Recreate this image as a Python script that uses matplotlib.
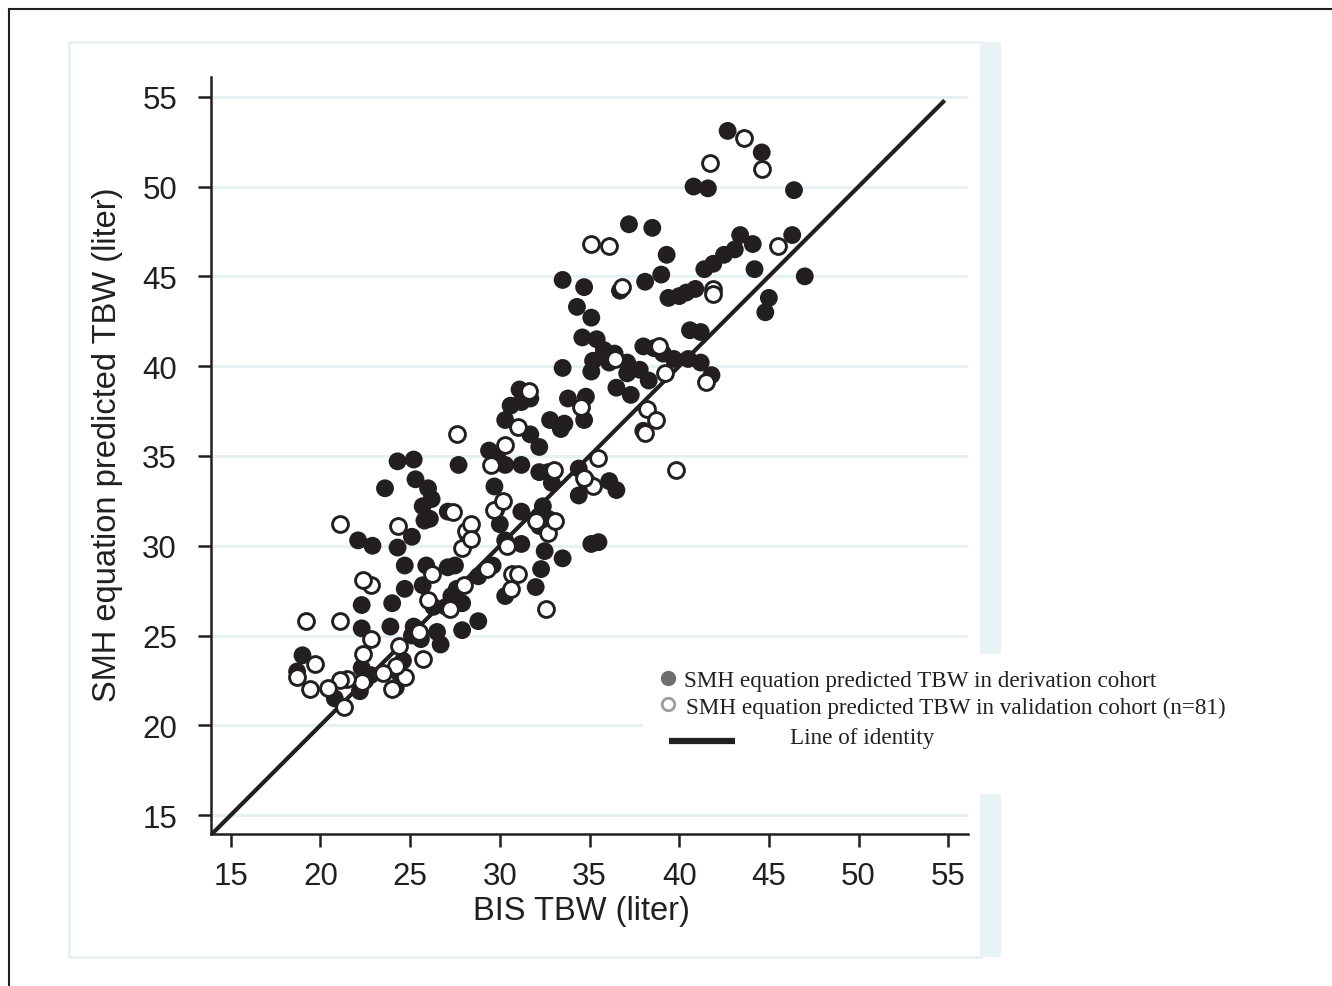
import matplotlib.pyplot as plt
from matplotlib.patches import Rectangle
from matplotlib.lines import Line2D

# derivation cohort (filled circles)
deriv_x = [42.7, 44.6, 40.8, 41.6, 46.4, 46.3, 43.4, 37.2, 38.5, 33.5, 34.7, 38.1, 36.7, 39.4,
           40.0, 40.4, 40.9, 41.4, 41.9, 42.5, 43.1, 44.1, 39.0, 39.3, 44.2, 45.0, 44.8, 47.0,
           34.3, 35.1, 40.6, 41.2, 34.6, 35.4, 35.8, 35.2, 35.1, 36.1, 36.4, 37.1, 37.1, 37.8,
           38.0, 38.6, 39.1, 39.7, 40.5, 41.2, 41.8, 36.5, 37.3, 38.3, 33.5, 33.8, 34.8, 34.7,
           38.0, 33.6, 32.8, 33.4, 34.4, 34.4, 36.1, 36.5, 35.1, 35.5, 33.5, 32.2, 32.5, 30.6,
           30.3, 31.1, 31.2, 31.7, 31.7, 31.2, 30.3, 29.4, 29.9, 29.7, 29.8, 30.0, 30.3, 31.2,
           31.2, 32.2, 32.7, 32.9, 32.4, 32.7, 32.2, 32.3, 32.0, 29.6, 28.8, 30.3, 28.8, 27.9,
           27.9, 27.3, 27.6, 27.0, 26.3, 26.5, 26.7, 25.6, 25.2, 25.1, 25.7, 25.9, 25.8, 26.1,
           25.7, 26.0, 25.3, 25.2, 24.3, 23.6, 25.1, 24.3, 24.7, 24.7, 24.0, 23.9, 24.6, 24.4,
           24.2, 22.3, 22.3, 22.1, 22.9, 22.3, 22.5, 22.8, 22.2, 20.8, 19.0, 18.7, 26.2, 27.1,
           27.5, 27.1, 27.7, 28.4, 28.2]
deriv_y = [53.1, 51.9, 50.0, 49.9, 49.8, 47.3, 47.3, 47.9, 47.7, 44.8, 44.4, 44.7, 44.2, 43.8,
           43.9, 44.1, 44.3, 45.4, 45.7, 46.2, 46.5, 46.8, 45.1, 46.2, 45.4, 43.8, 43.0, 45.0,
           43.3, 42.7, 42.0, 41.9, 41.6, 41.5, 40.9, 40.3, 39.7, 40.2, 40.7, 40.2, 39.6, 39.8,
           41.1, 41.0, 40.7, 40.4, 40.4, 40.2, 39.5, 38.8, 38.4, 39.2, 39.9, 38.2, 38.3, 37.0,
           36.4, 36.8, 37.0, 36.5, 34.3, 32.8, 33.6, 33.1, 30.1, 30.2, 29.3, 35.5, 29.7, 37.8,
           37.0, 38.7, 38.0, 38.2, 36.2, 34.5, 34.5, 35.3, 34.8, 33.3, 32.0, 31.2, 30.3, 31.9,
           30.1, 34.1, 34.1, 33.5, 32.2, 31.5, 31.1, 28.7, 27.7, 28.9, 28.3, 27.2, 25.8, 25.3,
           26.8, 27.2, 27.6, 26.6, 26.6, 25.2, 24.5, 24.8, 25.5, 25.0, 27.8, 28.9, 31.4, 31.5,
           32.2, 33.2, 33.7, 34.8, 34.7, 33.2, 30.5, 29.9, 28.9, 27.6, 26.8, 25.5, 23.6, 22.9,
           22.1, 26.7, 25.4, 30.3, 30.0, 23.2, 22.5, 22.8, 21.9, 21.5, 23.9, 23.0, 32.6, 31.9,
           28.9, 28.8, 34.5, 31.1, 30.6]

# validation cohort (open circles)
valid_x = [43.6, 41.7, 44.6, 35.1, 36.1, 36.8, 41.9, 41.9, 45.5, 41.5, 36.4, 38.9, 39.2, 38.2,
           38.1, 38.7, 39.8, 34.5, 35.5, 34.8, 35.2, 31.6, 31.0, 30.3, 27.6, 29.5, 29.7, 30.2,
           28.1, 28.4, 27.9, 28.4, 30.4, 30.7, 31.0, 30.6, 32.0, 32.7, 33.1, 33.0, 32.6, 29.3,
           28.0, 27.2, 27.4, 26.0, 26.2, 25.7, 24.7, 24.4, 24.2, 24.0, 22.8, 22.8, 22.4, 24.3,
           22.4, 22.3, 21.5, 21.1, 21.3, 20.4, 19.7, 19.4, 18.7, 19.2, 21.1, 21.1, 23.5, 25.5,
           34.7]
valid_y = [52.7, 51.3, 51.0, 46.8, 46.7, 44.4, 44.3, 44.0, 46.7, 39.1, 40.4, 41.1, 39.6, 37.6,
           36.3, 37.0, 34.2, 37.7, 34.9, 33.6, 33.3, 38.6, 36.6, 35.6, 36.2, 34.5, 32.0, 32.5,
           30.8, 31.2, 29.9, 30.4, 30.0, 28.4, 28.4, 27.6, 31.4, 30.7, 31.4, 34.2, 26.5, 28.7,
           27.8, 26.5, 31.9, 27.0, 28.4, 23.7, 22.7, 24.4, 23.3, 22.0, 24.8, 27.8, 28.1, 31.1,
           24.0, 22.4, 22.6, 22.5, 21.0, 22.1, 23.4, 22.0, 22.7, 25.8, 25.8, 31.2, 22.9, 25.2,
           33.8]

ticks = [15, 20, 25, 30, 35, 40, 45, 50, 55]
identity = [13.9, 54.8]

ink = '#231f20'
grid_c = '#e6f1f3'
W, H = 1332, 987

fig = plt.figure(figsize=(W / 100, H / 100), dpi=100)
fig.patch.set_facecolor('white')

# outer frame (top and left edges visible)
fig.add_artist(Line2D([8.5 / W, 1], [1 - 9.5 / H, 1 - 9.5 / H], color=ink, lw=1.5, zorder=-3))
fig.add_artist(Line2D([8.5 / W, 8.5 / W], [0, 1 - 9.5 / H], color=ink, lw=1.5, zorder=-3))

# light panel and right stripe, behind the axes
fig.add_artist(Rectangle((69 / W, 1 - 958 / H), (981 - 69) / W, (958 - 43) / H,
                         transform=fig.transFigure, facecolor='white', edgecolor=grid_c, lw=2,
                         zorder=-2))
fig.add_artist(Rectangle((981 / W, 1 - 958 / H), 20 / W, (958 - 43) / H,
                         transform=fig.transFigure, facecolor='#e8f3f5', edgecolor='none',
                         zorder=-2))

ax = fig.add_axes([211 / W, 1 - 835 / H, (968 - 211) / W, (835 - 78) / H])
ax.set_facecolor('none')
ax.set_xlim(13.9, 56.1)
ax.set_ylim(13.95, 56.1)

for t in ticks:
    ax.axhline(t, color=grid_c, lw=2.2, zorder=0)

ax.plot(identity, identity, color=ink, lw=3, solid_capstyle='butt', zorder=2)
ax.scatter(deriv_x, deriv_y, s=165, color=ink, edgecolors='none', zorder=3)
ax.scatter(valid_x, valid_y, s=130, facecolors='white', edgecolors=ink, linewidths=2.1, zorder=4)

for side in ['top', 'right']:
    ax.spines[side].set_visible(False)
for side in ['left', 'bottom']:
    ax.spines[side].set_linewidth(1.8)
    ax.spines[side].set_color(ink)

ax.set_xticks(ticks)
ax.set_yticks(ticks)
ax.tick_params(axis='both', direction='out', length=9.5, width=1.8, color=ink,
               labelsize=22.5, labelcolor=ink)
ax.tick_params(axis='y', pad=15)
ax.tick_params(axis='x', pad=10)
for lab in ax.get_xticklabels() + ax.get_yticklabels():
    lab.set_family('Liberation Sans')

ax.set_xlabel('BIS TBW (liter)', fontsize=23.5, family='Liberation Sans', color=ink, labelpad=3)
ax.set_ylabel('SMH equation predicted TBW (liter)', fontsize=23.5, family='Liberation Sans',
              color=ink, labelpad=14)
ax.xaxis.label.set_x(0.49)
ax.yaxis.label.set_y(0.515)

# legend box, drawn over the panel stripe
fig.add_artist(Rectangle((643 / W, 1 - 795 / H), (1240 - 643) / W, (795 - 655) / H,
                         transform=fig.transFigure, facecolor='white', edgecolor='none', zorder=5))
fig.add_artist(Line2D([668 / W], [1 - 679 / H], marker='o', ms=10, color='#6d6e71',
                      mec='#6d6e71', zorder=6))
fig.add_artist(Line2D([668 / W], [1 - 705 / H], marker='o', ms=9, mfc='white',
                      mec='#9a9b9d', mew=2, zorder=6))
fig.add_artist(Line2D([669 / W, 735 / W], [1 - 742 / H, 1 - 742 / H], color=ink, lw=4.5,
                      solid_capstyle='butt', zorder=6))
leg_font = dict(fontsize=16.7, family='Liberation Serif', color=ink, va='center', ha='left',
                zorder=6)
fig.text(684 / W, 1 - 682 / H, 'SMH equation predicted TBW in derivation cohort', **leg_font)
fig.text(686 / W, 1 - 708 / H, 'SMH equation predicted TBW in validation cohort (n=81)', **leg_font)
fig.text(790 / W, 1 - 739 / H, 'Line of identity', **leg_font)

fig.savefig('out.png', dpi=100)
